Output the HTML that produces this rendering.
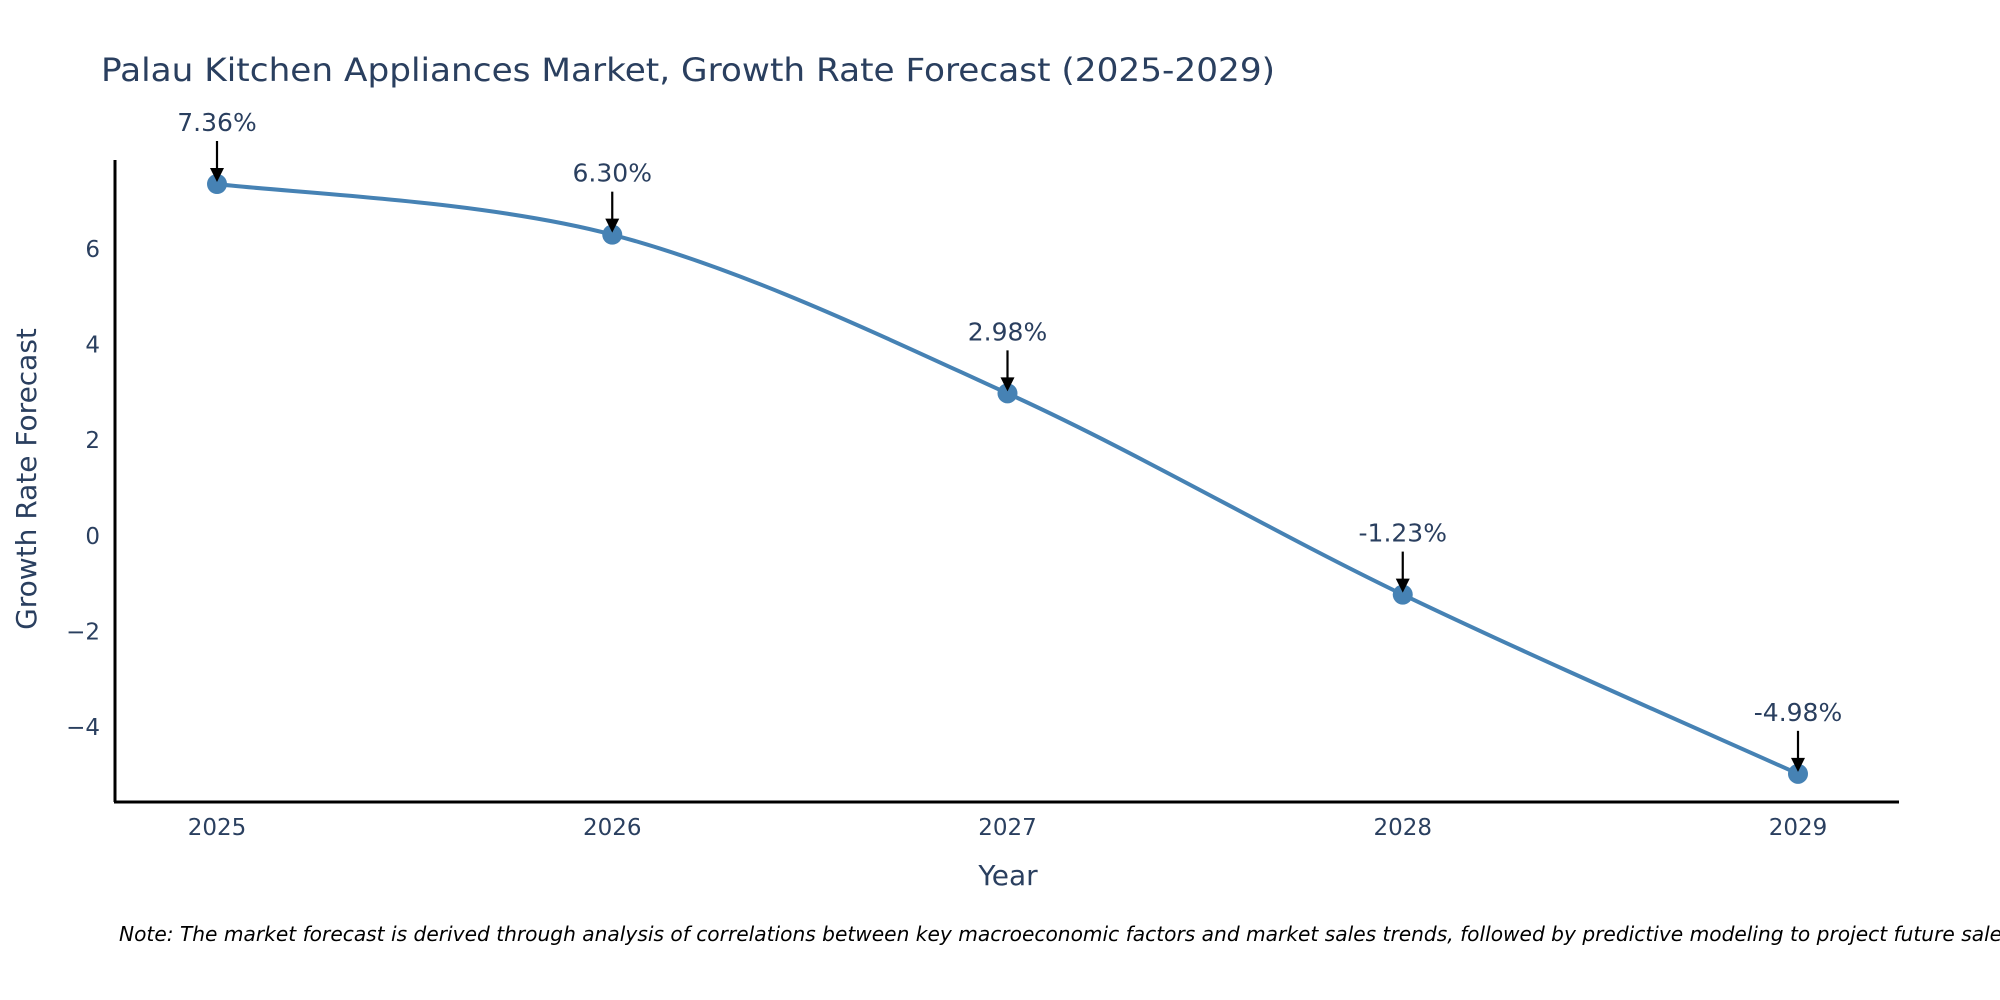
<!DOCTYPE html>
<html><head><meta charset="utf-8"><style>
html,body{margin:0;padding:0;background:#fff;}
svg{display:block;font-family:"DejaVu Sans","Liberation Sans",sans-serif;}
</style></head><body>
<svg id="chart" width="2000" height="1000" viewBox="0 0 2000 1000" xmlns="http://www.w3.org/2000/svg">
<text x="101" y="81" font-size="32" fill="#2a3f5f" textLength="1174" lengthAdjust="spacingAndGlyphs">Palau Kitchen Appliances Market, Growth Rate Forecast (2025-2029)</text>
<g id="plot"></g>
<line x1="115" y1="160" x2="115" y2="802" stroke="#000" stroke-width="3"/>
<line x1="114" y1="802" x2="1899" y2="802" stroke="#000" stroke-width="3"/>
<text x="1008" y="885" font-size="28" fill="#2a3f5f" text-anchor="middle">Year</text>
<text transform="translate(36,479) rotate(-90)" font-size="28" fill="#2a3f5f" text-anchor="middle">Growth Rate Forecast</text>
<text x="119" y="941" font-size="20" font-style="italic" fill="#000" textLength="1900" lengthAdjust="spacingAndGlyphs">Note: The market forecast is derived through analysis of correlations between key macroeconomic factors and market sales trends, followed by predictive modeling to project future sales.</text>
</svg>
<script>
const years = ["2025","2026","2027","2028","2029"];
const growth = [7.36, 6.30, 2.98, -1.23, -4.98];
const labels = ["7.36%","6.30%","2.98%","-1.23%","-4.98%"];
const yTicks = [-4, -2, 0, 2, 4, 6];

const NS = "http://www.w3.org/2000/svg";
const plot = document.getElementById('plot');
const x0 = 217, x1 = 1798;
function xs(i){ return x0 + (x1 - x0) * i / (years.length - 1); }
function ys(v){ return 535.8 - v * 47.8; }
function mk(tag, attrs){ const e = document.createElementNS(NS, tag); for (const k in attrs) e.setAttribute(k, attrs[k]); plot.appendChild(e); return e; }

yTicks.forEach(t => {
  const e = mk('text', {x: 100, y: ys(t) + 8, 'font-size': 23, fill: '#2a3f5f', 'text-anchor': 'end'});
  e.textContent = t < 0 ? '\u2212' + Math.abs(t) : String(t);
  
  
});
years.forEach((y, i) => {
  const e = mk('text', {x: xs(i), y: 835, 'font-size': 23, fill: '#2a3f5f', 'text-anchor': 'middle'});
  e.textContent = y;
  
  
});

const pts = growth.map((v, i) => [xs(i), ys(v)]);
let d = 'M' + pts[0][0] + ',' + pts[0][1];
for (let i = 0; i < pts.length - 1; i++) {
  const p0 = pts[Math.max(0, i - 1)], p1 = pts[i], p2 = pts[i + 1], p3 = pts[Math.min(pts.length - 1, i + 2)];
  const t = 1 / 6;
  const c1 = [p1[0] + (p2[0] - p0[0]) * t, p1[1] + (p2[1] - p0[1]) * t];
  const c2 = [p2[0] - (p3[0] - p1[0]) * t, p2[1] - (p3[1] - p1[1]) * t];
  d += ' C' + c1.join(',') + ' ' + c2.join(',') + ' ' + p2.join(',');
}
const line = mk('path', {d: d, fill: 'none', stroke: '#4682b4', 'stroke-width': 4});



growth.forEach((v, i) => {
  const cx = xs(i), cy = ys(v);
  const c = mk('circle', {cx: cx, cy: cy, r: 10, fill: '#4682b4'});
  
  
  const a = mk('line', {x1: cx, y1: cy - 43, x2: cx, y2: cy - 14, stroke: '#000', 'stroke-width': 2.2});
  
  
  const h = mk('polygon', {points: (cx - 7) + ',' + (cy - 16) + ' ' + (cx + 7) + ',' + (cy - 16) + ' ' + cx + ',' + (cy - 2), fill: '#000'});
  
  
  const tx = mk('text', {x: cx, y: cy - 53, 'font-size': 25, fill: '#2a3f5f', 'text-anchor': 'middle'});
  tx.textContent = labels[i];
  
  
});
</script>
</body></html>
